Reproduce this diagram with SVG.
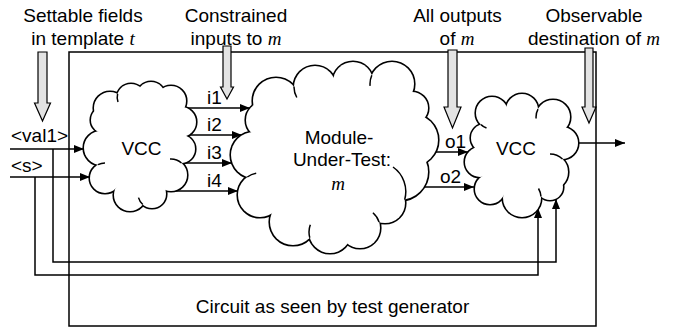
<svg xmlns="http://www.w3.org/2000/svg" xmlns:xlink="http://www.w3.org/1999/xlink" width="684" height="329" viewBox="0 0 684 329">
<style>
.t{font-family:"Liberation Sans",Arial,sans-serif;font-size:19px;fill:#000}
.v{font-family:"Liberation Serif","Times New Roman",serif;font-style:italic}
.w{fill:none;stroke:#000;stroke-width:1.5}
.cs{fill:none;stroke:#000;stroke-width:3.2}
.cf{fill:#fff;stroke:none}
.hk{fill:none;stroke:#000;stroke-width:1.5}
.ha{fill:#e3e3e3;stroke:#000;stroke-width:1.2}
</style>
<defs>
<marker id="ah" markerWidth="10" markerHeight="8" refX="10" refY="4" orient="auto" markerUnits="userSpaceOnUse"><path d="M0,0 L10,4 L0,8 z" fill="#000"/></marker>
<g id="cl1">
<circle cx="104" cy="120" r="13"/><circle cx="110" cy="108" r="16"/><circle cx="131" cy="98" r="14"/><circle cx="151" cy="96" r="14"/><circle cx="171" cy="101" r="15"/><circle cx="181" cy="122" r="15"/><circle cx="181" cy="149" r="14"/><circle cx="171" cy="175" r="16"/><circle cx="152" cy="194" r="14"/><circle cx="130" cy="195" r="16"/><circle cx="105" cy="178" r="15"/><circle cx="101" cy="148" r="17"/>
</g>
<g id="cl2">
<circle cx="276" cy="101" r="23"/><circle cx="315" cy="87" r="21"/><circle cx="353" cy="82" r="20"/><circle cx="392" cy="84" r="22"/><circle cx="412" cy="108" r="16"/><circle cx="412" cy="140" r="26"/><circle cx="400" cy="172" r="28"/><circle cx="385" cy="203" r="20"/><circle cx="360" cy="228" r="20"/><circle cx="330" cy="232" r="21"/><circle cx="293" cy="222" r="23"/><circle cx="260" cy="195" r="22"/><circle cx="254" cy="155" r="23"/><circle cx="264" cy="120" r="18"/>
</g>
<g id="cl3">
<circle cx="492" cy="113" r="16"/><circle cx="522" cy="110" r="16"/><circle cx="553" cy="117" r="17"/><circle cx="562" cy="143" r="16"/><circle cx="550" cy="172" r="18"/><circle cx="550" cy="187" r="13"/><circle cx="522" cy="198" r="19"/><circle cx="490" cy="189" r="15"/><circle cx="480" cy="162" r="15"/><circle cx="485" cy="138" r="14"/>
</g>
</defs>
<rect width="684" height="329" fill="#fff"/>
<g id="frame">
<rect class="w" x="69" y="52" width="527" height="274"/>
<text class="t" x="332.5" y="313" text-anchor="middle">Circuit as seen by test generator</text>
</g>
<g id="connectors">
<line class="w" x1="10" y1="149" x2="84" y2="149" marker-end="url(#ah)"/>
<line class="w" x1="10" y1="177" x2="90" y2="177" marker-end="url(#ah)"/>
<polyline class="w" points="53,149 53,262 556,262 556,199" marker-end="url(#ah)"/>
<polyline class="w" points="35,177 35,275 538,275 538,208" marker-end="url(#ah)"/>
<line class="w" x1="175" y1="108" x2="250" y2="108" marker-end="url(#ah)"/>
<line class="w" x1="178" y1="135" x2="242" y2="135" marker-end="url(#ah)"/>
<line class="w" x1="175" y1="163" x2="232" y2="163" marker-end="url(#ah)"/>
<line class="w" x1="160" y1="191" x2="238" y2="191" marker-end="url(#ah)"/>
<line class="w" x1="428" y1="152" x2="468" y2="152" marker-end="url(#ah)"/>
<line class="w" x1="415" y1="187" x2="474" y2="187" marker-end="url(#ah)"/>
<line class="w" x1="570" y1="143" x2="625" y2="143" marker-end="url(#ah)"/>
<text class="t" x="11" y="142">&lt;val1&gt;</text>
<text class="t" x="11" y="172">&lt;s&gt;</text>
<text class="t" x="207" y="104">i1</text>
<text class="t" x="207" y="131">i2</text>
<text class="t" x="207" y="159">i3</text>
<text class="t" x="207" y="187">i4</text>
<text class="t" x="445" y="148">o1</text>
<text class="t" x="440" y="183">o2</text>
</g>
<g id="vcc-left">
<use xlink:href="#cl1" href="#cl1" class="cs"/>
<use xlink:href="#cl1" href="#cl1" class="cf"/>
<polygon class="cf" points="104,120 110,108 131,98 151,96 171,101 181,122 181,149 171,175 152,194 130,195 105,178 101,148"/>
<path class="hk" d="M181.5,163 A16 16 0 0 0 170,159 M117.6,93.9 A14 14 0 0 0 118,102 M142.8,204.5 A14 14 0 0 1 138.5,197.6 M98,164.7 A15 15 0 0 1 105,163"/>
<text class="t" x="141.5" y="155" text-anchor="middle">VCC</text>
</g>
<g id="mut">
<use xlink:href="#cl2" href="#cl2" class="cs"/>
<use xlink:href="#cl2" href="#cl2" class="cf"/>
<polygon class="cf" points="276,101 315,87 353,82 392,84 412,108 412,140 400,172 385,203 360,228 330,232 293,222 260,195 254,155 264,120"/>
<path class="hk" d="M404.7,199.6 A30 30 0 0 0 393,167 M294,86.6 A21 21 0 0 0 296.8,97.5 M309.8,237.7 A21 21 0 0 1 310.3,224.8 M379.1,222.1 A20 20 0 0 0 372.9,212.7 M371.8,75.2 A22 22 0 0 0 370.1,85.9 M247.3,177 A22 22 0 0 1 256.2,173.3"/>
<text class="t" x="339" y="144" text-anchor="middle">Module-</text>
<text class="t" x="342" y="166" text-anchor="middle">Under-Test:</text>
<text class="t v" x="338" y="190" text-anchor="middle">m</text>
</g>
<g id="vcc-right">
<use xlink:href="#cl3" href="#cl3" class="cs"/>
<use xlink:href="#cl3" href="#cl3" class="cf"/>
<polygon class="cf" points="492,113 522,110 553,117 562,143 550,172 550,187 522,198 490,189 480,162 485,138"/>
<path class="hk" d="M562.5,159 A18 18 0 0 0 550,154 M541,196.5 A19 19 0 0 0 538.5,188.5 M481,124.6 A16 16 0 0 0 486.5,128 M538,109.1 A17 17 0 0 0 536.1,118.5"/>
<text class="t" x="516" y="155" text-anchor="middle">VCC</text>
</g>
<g id="ann-settable">
<polygon class="ha" points="38,52 47,52 47,103 50.5,103 42.5,121 34.5,103 38,103"/>
<text class="t" x="83" y="22" text-anchor="middle">Settable fields</text>
<text class="t" x="83" y="45" text-anchor="middle">in template <tspan class="v">t</tspan></text>
</g>
<g id="ann-constrained">
<polygon class="ha" points="223,46 231,46 231,87 233.5,87 227,99 220.5,87 223,87"/>
<text class="t" x="236" y="22" text-anchor="middle">Constrained</text>
<text class="t" x="236" y="45" text-anchor="middle">inputs to <tspan class="v">m</tspan></text>
</g>
<g id="ann-outputs">
<polygon class="ha" points="448,50 457,50 457,107 461,107 452.5,128 444,107 448,107"/>
<text class="t" x="457.5" y="22" text-anchor="middle">All outputs</text>
<text class="t" x="457" y="45" text-anchor="middle">of <tspan class="v">m</tspan></text>
</g>
<g id="ann-observable">
<polygon class="ha" points="585,48 593,48 593,107 596,107 589,123 582,107 585,107"/>
<text class="t" x="594" y="22" text-anchor="middle">Observable</text>
<text class="t" x="594" y="45" text-anchor="middle">destination of <tspan class="v">m</tspan></text>
</g>
</svg>
